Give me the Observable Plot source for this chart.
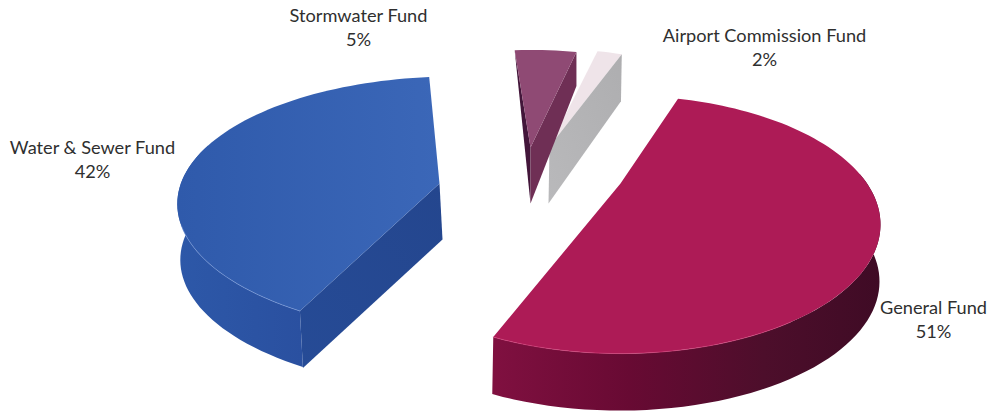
<!DOCTYPE html>
<html>
<head>
<meta charset="utf-8">
<script src="https://cdn.jsdelivr.net/npm/d3@7"></script>
<script src="https://cdn.jsdelivr.net/npm/@observablehq/plot@0.6"></script>
<style>
  html, body { margin: 0; padding: 0; background: #fff; }
  svg { display: block; }
</style>
</head>
<body>
<script>
// Fund shares of the total, clockwise from the top of the pie.
const funds = ["General Fund", "Water & Sewer Fund", "Stormwater Fund", "Airport Commission Fund"];
const shares = [51, 42, 5, 2];

// Perspective and offset of each exploded wedge, in chart units around the pie centre.
const firstAngle = 21.2;
const wedgeViews = [
  {dx: 91, dy: 0, rx: 246.5, ry: 116, k: 0.318, j: 0, turn: -3.5, drop: [-1, 57]},
  {dx: -90, dy: 0, rx: 277, ry: 125, k: 0.17, j: 0.071, turn: 1.5, drop: [3, 56]},
  {dx: 1, dy: -36, rx: 246.5, ry: 122, k: 0.25, j: 0, turn: -0.6, drop: [0, 56]},
  {dx: 20, dy: -37, rx: 246.5, ry: 122, k: 0.25, j: 0, turn: 0, drop: [-1, 57]}
];

// Label anchors in the same chart units.
const labelSpots = [
  {dx: 404, dy: 134.5},
  {dx: -437, dy: -25.5},
  {dx: -171, dy: -157.5},
  {dx: 235, dy: -137.5}
];

const shift = (p, d, t = 1) => ({x: p.x + d[0] * t, y: p.y + d[1] * t});

// Projects an angle on the unit disc (degrees clockwise from the top) through a wedge's view.
function rimPoint(view, deg) {
  const a = deg * Math.PI / 180;
  const u = Math.sin(a), v = -Math.cos(a), w = 1 - view.k * v - view.j * u;
  return {x: view.dx + view.rx * u / w, y: view.dy + view.ry * v / w};
}

function arc(view, from, to) {
  const steps = Math.max(2, Math.ceil(Math.abs(to - from) / 2));
  return d3.range(steps + 1).map(i => rimPoint(view, from + (to - from) * i / steps));
}

let running = firstAngle;
const wedges = shares.map((share, i) => {
  const view = wedgeViews[i];
  const start = running + view.turn;
  const end = start + share * 3.6;
  running += share * 3.6;
  return {view, start, end, hub: {x: view.dx, y: view.dy}};
});
const [general, water, storm, airport] = wedges;

// Wall between two angles of the outer rim, closed along the lowered rim.
const rimWall = (w, from, to) => {
  const top = arc(w.view, from, to);
  return [...top, ...top.slice().reverse().map(p => shift(p, w.view.drop))];
};
const topFace = w => [w.hub, ...arc(w.view, w.start, w.end)];
const cutFace = (w, deg, rimDrop) => {
  const rim = rimPoint(w.view, deg);
  const lowered = shift(rim, w.view.drop, rimDrop / w.view.drop[1]);
  return [w.hub, rim, lowered, shift(w.hub, w.view.drop)];
};

const faces = [
  // Airport Commission wedge
  {pts: topFace(airport), fill: "#efe4e9"},
  {pts: cutFace(airport, airport.end, 47), fill: "url(#airportCut)"},
  // Stormwater wedge
  {pts: [storm.hub, rimPoint(storm.view, storm.start), shift(storm.hub, storm.view.drop)], fill: "#43163a"},
  {pts: cutFace(storm, storm.end, 34), fill: "#6f2f55"},
  {pts: topFace(storm), fill: "#8f4a74"},
  // Water & Sewer wedge
  {pts: cutFace(water, water.start, 57), fill: "url(#waterCut)"},
  {pts: rimWall(water, water.start, 290), fill: "url(#waterWall)"},
  {pts: topFace(water), fill: "url(#waterTop)"},
  // General wedge
  {pts: rimWall(general, 85, general.end), fill: "url(#generalWall)"},
  {pts: topFace(general), fill: "#ad1b56"}
];

const gradients = () => d3.create("svg:defs").html(`
  <linearGradient id="generalWall" x1="1" x2="0" y1="0" y2="0">
    <stop offset="0" stop-color="#3f0b25"/><stop offset="0.3" stop-color="#4d0e2b"/>
    <stop offset="0.65" stop-color="#680a33"/><stop offset="1" stop-color="#801040"/>
  </linearGradient>
  <linearGradient id="waterTop" x1="0" x2="1" y1="0" y2="0">
    <stop offset="0" stop-color="#2f5aab"/><stop offset="1" stop-color="#3b67b8"/>
  </linearGradient>
  <linearGradient id="waterWall" x1="0" x2="1" y1="0" y2="0">
    <stop offset="0" stop-color="#2d58a8"/><stop offset="1" stop-color="#2a50a0"/>
  </linearGradient>
  <linearGradient id="waterCut" x1="0" x2="1" y1="1" y2="0">
    <stop offset="0" stop-color="#264b96"/><stop offset="1" stop-color="#24468e"/>
  </linearGradient>
  <linearGradient id="airportCut" x1="0" x2="1" y1="1" y2="0">
    <stop offset="0" stop-color="#b9b9bb"/><stop offset="1" stop-color="#aeaeb0"/>
  </linearGradient>
`).node();

const labels = funds.map((name, i) => ({
  text: `${name}\n${shares[i]}%`,
  x: labelSpots[i].dx,
  y: labelSpots[i].dy
}));

const chart = Plot.plot({
  width: 990,
  height: 413,
  margin: 0,
  axis: null,
  x: {domain: [-529, 461], range: [0, 990]},
  y: {domain: [-183, 230], range: [0, 413]},
  style: {background: "#fff"},
  marks: [
    gradients,
    ...faces.map(f => Plot.line(f.pts, {x: "x", y: "y", fill: f.fill, stroke: "none", curve: "linear-closed"})),
    // Thin highlight along the front rims
    Plot.line(arc(general.view, 150, general.end), {x: "x", y: "y", stroke: "#d9457f", strokeWidth: 1, strokeOpacity: 0.6}),
    Plot.line(arc(water.view, water.start, 250), {x: "x", y: "y", stroke: "#7f9fdc", strokeWidth: 1, strokeOpacity: 0.6}),
    Plot.text(labels, {
      x: "x", y: "y", text: "text",
      fontFamily: "Lato", fontSize: 18.2, lineHeight: 1.37, fill: "#2f2f2f", textAnchor: "middle"
    })
  ]
});
document.body.append(chart);
</script>
</body>
</html>
